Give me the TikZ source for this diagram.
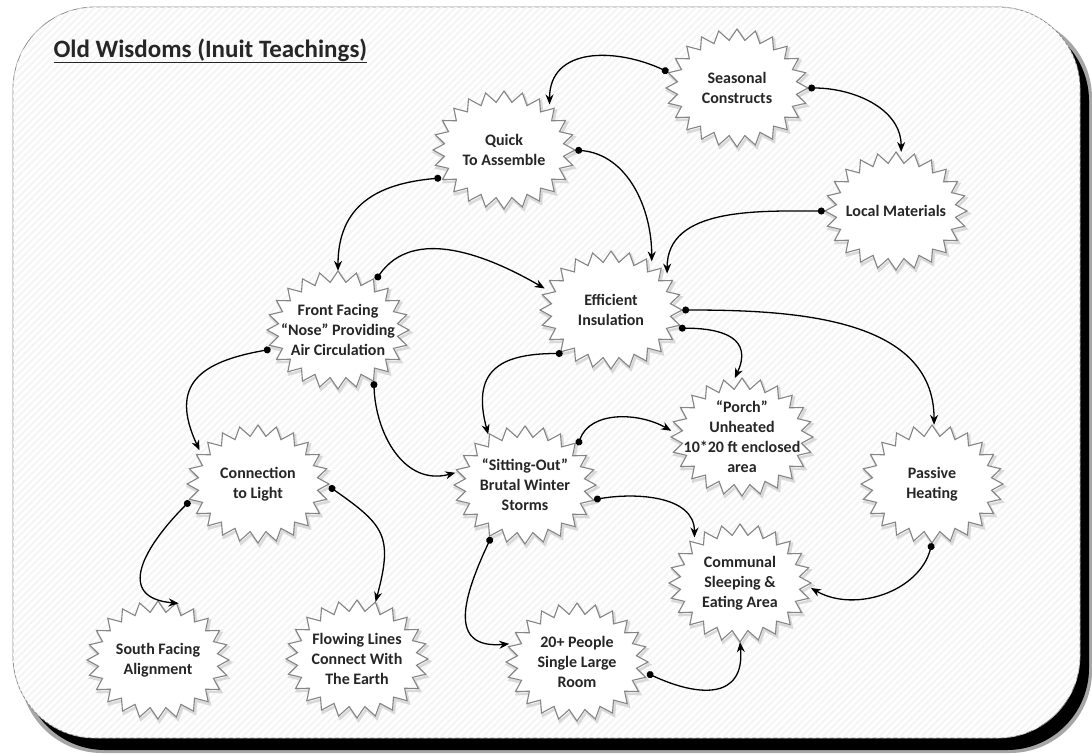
\documentclass[tikz,border=0pt]{standalone}
\usepackage{fontspec}
\setmainfont{Carlito}
\usetikzlibrary{arrows.meta,shapes.geometric,patterns.meta,calc}

\tikzset{
  hub/.style={ellipse, minimum width=142pt, minimum height=118pt, inner sep=0pt},
  burstline/.style={draw=black!48, line width=1.1pt, fill=white, line join=miter},
  burstshadow/.style={draw=black!15, line width=2.6pt},
  btext/.style={font=\bfseries\fontsize{16}{20}\selectfont, text=black!85, align=center},
  conn/.style={line width=1.3pt, draw=black, {Circle[length=7pt]}-{Stealth[length=10pt,width=8pt]}},
  titletext/.style={font=\bfseries\fontsize{25}{29}\selectfont, text=black!85, anchor=base west},
  frame/.style={rounded corners=82pt},
}

\newcommand\burst[3]{%
  \node[hub] (#1) at (#2) {};
  \draw[burstshadow, shift={($(#1.center)+(1.5pt,-2.5pt)$)}] (0:71pt and 59pt)
    \foreach \a in {0,15,...,345}{ -- (\a:71pt and 59pt) -- (\a+7.5:60pt and 48pt)} -- cycle;
  \draw[burstline, shift={(#1.center)}] (0:71pt and 59pt)
    \foreach \a in {0,15,...,345}{ -- (\a:71pt and 59pt) -- (\a+7.5:60pt and 48pt)} -- cycle;
  \node[btext] at (#1.center) {#3};
}

\begin{document}
\begin{tikzpicture}[x=1pt,y=1pt]
\useasboundingbox (0,0) rectangle (1092,-753);
% shadow of the frame
\fill[black!35, frame] (20,-16) rectangle (1092,-753);
\fill[black, frame] (23,-19) rectangle (1089,-750);
% frame
\draw[draw=black!45, line width=0.8pt, fill=white, frame] (13,-7) rectangle (1080,-738);
\fill[pattern={Lines[angle=45,distance=5pt,line width=2pt]}, pattern color=black!4, frame] (13,-7) rectangle (1080,-738);

\node[titletext] (title) at (50,-57) {\underline{Old Wisdoms (Inuit Teachings)}};

\burst{SC}{737,-88}{Seasonal\\Constructs}
\burst{QA}{504,-150}{Quick\\To Assemble}
\burst{LM}{896,-211}{Local Materials}
\burst{EI}{611,-310}{Efficient\\Insulation}
\burst{FF}{338,-330}{Front Facing\\“Nose” Providing\\Air Circulation}
\burst{PO}{742,-437}{“Porch”\\Unheated\\10*20 ft enclosed\\area}
\burst{PH}{932,-484}{Passive\\Heating}
\burst{CL}{258,-484}{Connection\\to Light}
\burst{SO}{525,-485}{“Sitting-Out”\\Brutal Winter\\Storms}
\burst{CO}{740,-583}{Communal\\Sleeping \&\\Eating Area}
\burst{SF}{158,-660}{South Facing\\Alignment}
\burst{FL}{357,-659}{Flowing Lines\\Connect With\\The Earth}
\burst{PP}{577,-662}{20+ People\\Single Large\\Room}

\draw[conn] (SC.167) to[out=155,in=90,looseness=1.2] (QA.45);
\draw[conn] (SC.0) to[out=0,in=90] (LM.85);
\draw[conn] (QA.204) to[out=185,in=90,looseness=1.2] (FF.90);
\draw[conn] (QA.0) to[out=-5,in=90] (EI.50);
\draw[conn] (LM.180) to[out=180,in=90] (EI.33);
\draw[conn] (FF.53) to[out=55,in=150] (EI.162);
\draw[conn] (FF.196) to[out=190,in=115,looseness=1.5] (CL.150);
\draw[conn] (FF.-55) to[out=-88,in=195,looseness=1.1] (SO.170);
\draw[conn] (EI.0) to[out=0,in=90] (PH.88);
\draw[conn] (EI.-15) to[out=0,in=65,looseness=1.5] (PO.97);
\draw[conn] (EI.222) to[out=180,in=105,looseness=1.5] (SO.126);
\draw[conn] (SO.37) to[out=70,in=150] (PO.175);
\draw[conn] (SO.-12) to[out=10,in=90] (CO.135);
\draw[conn] (CL.194) to[out=225,in=175,looseness=1.6] (SF.70);
\draw[conn] (CL.-2) to[out=-35,in=75,looseness=1.4] (FL.72);
\draw[conn] (SO.237) to[out=245,in=185,looseness=1.5] (PP.165);
\draw[conn] (PP.-9) to[out=-25,in=-85,looseness=1.5] (CO.-90);
\draw[conn] (PH.-90) to[out=-105,in=-30] (CO.-4);
\end{tikzpicture}
\end{document}
